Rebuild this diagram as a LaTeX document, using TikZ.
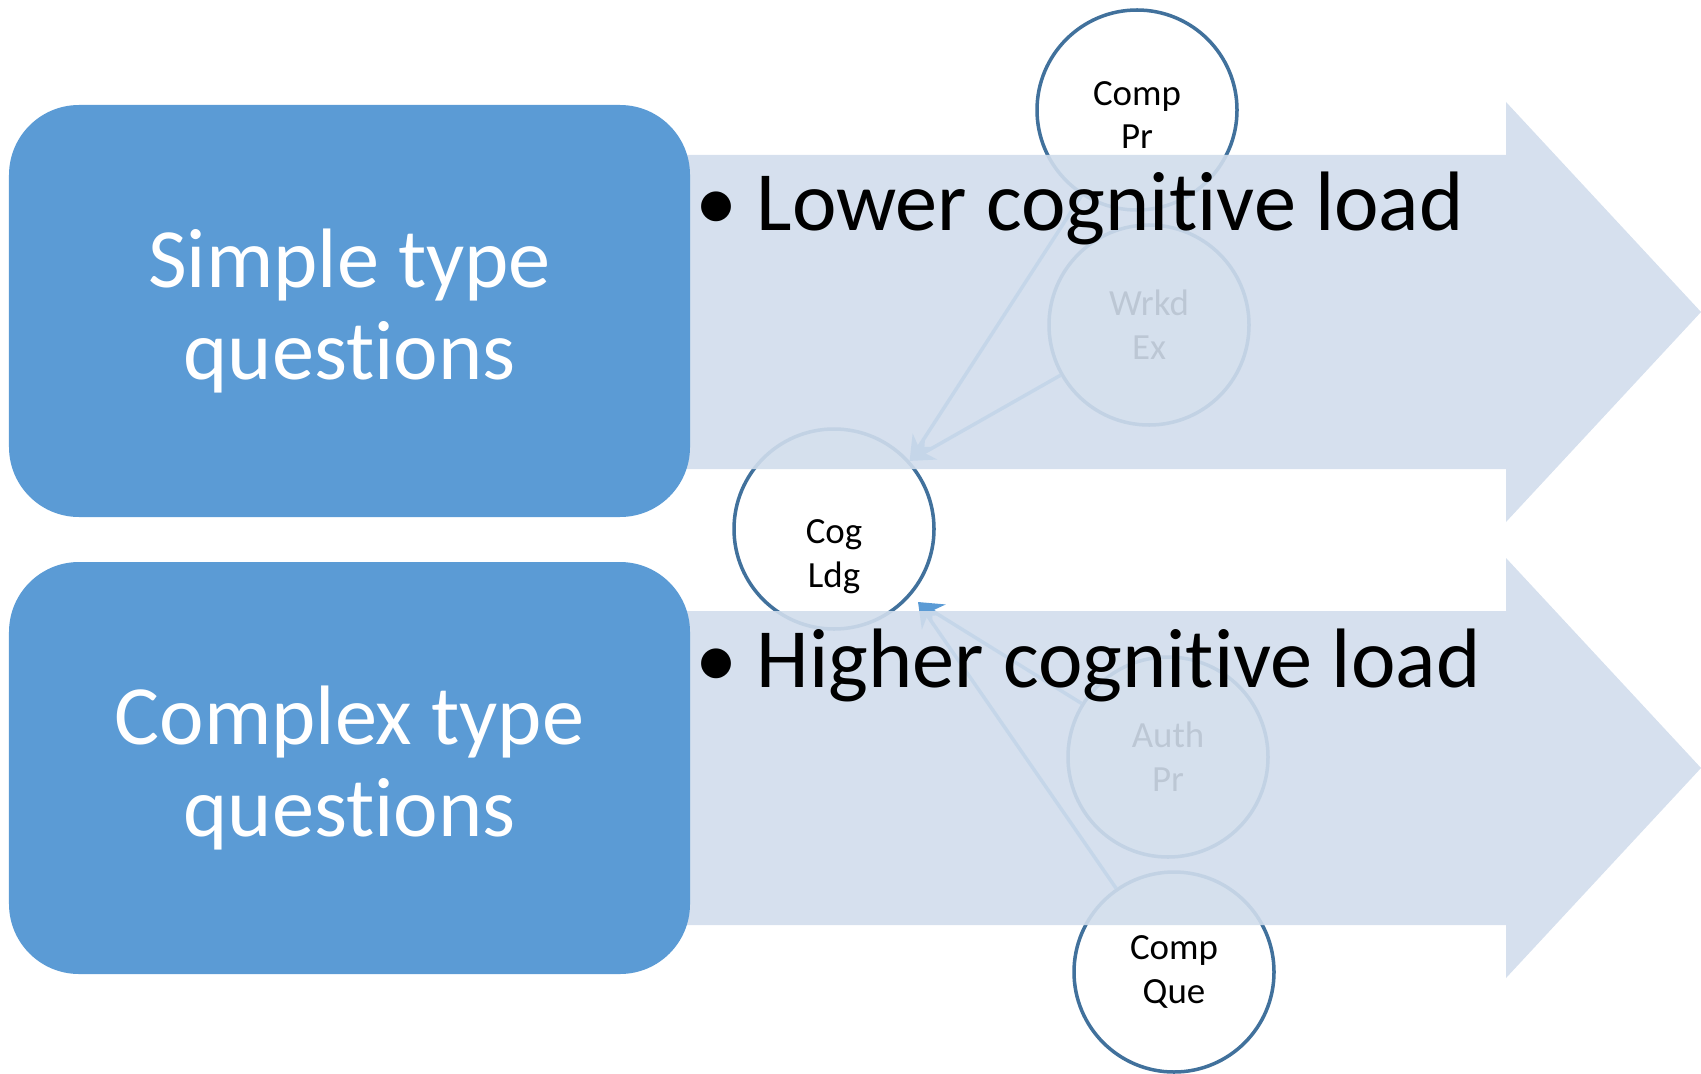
\documentclass[tikz,border=0pt]{standalone}
\usepackage{fontspec}
\setmainfont{Carlito}[RawFeature={-liga;-clig;-dlig;-rlig}]
\usetikzlibrary{arrows.meta}

\definecolor{boxblue}{RGB}{91,155,213}
\definecolor{ringblue}{RGB}{65,113,156}
\definecolor{bandblue}{RGB}{209,221,236}

\begin{document}
\begin{tikzpicture}[
    ring/.style={circle, draw=ringblue, line width=1pt, fill=white, minimum size=2cm, inner sep=0pt, align=center, font=\fontsize{10.5}{12.5}\selectfont},
    ringtext/.style={inner sep=0pt, align=center, font=\fontsize{10.5}{12.5}\selectfont},
    link/.style={draw=boxblue, line width=1pt, -{Stealth[length=7pt, width=7pt]}},
    qbox/.style={rounded corners=0.7cm, fill=boxblue, text=white, minimum width=6.81cm, minimum height=4.12cm, align=center, font=\fontsize{24}{26}\selectfont},
    point/.style={anchor=base west, inner sep=0pt, font=\fontsize{24}{29}\selectfont}
]
    % variables
    \pgfmathsetmacro{\vBody}{1.57}
    \pgfmathsetmacro{\vHead}{2.1}
    \pgfmathsetmacro{\vNeck}{15.06}
    \pgfmathsetmacro{\vTip}{17.01}
    \pgfmathsetmacro{\vTop}{7.61}
    \pgfmathsetmacro{\vBot}{3.05}

    \useasboundingbox (0,0) rectangle (17.01,10.73);

    % circles, drawn before the bands
    \node[ring] (comppr) at (11.37,9.63) {};
    \node[ringtext] (comptxt) at ([yshift=-0.05cm]comppr.center) {Comp\\Pr};
    \node[ring] (wrkdex) at (11.49,7.48) {Wrkd\\Ex};
    \node[ring] (cogldg) at (8.34,5.44) {};
    \node[ringtext] (cogtxt) at ([yshift=-0.28cm]cogldg.center) {Cog\\Ldg};
    \node[ring] (authpr) at (11.68,3.16) {Auth\\Pr};
    \node[ring] (compque) at (11.74,1.01) {Comp\\Que};

    \coordinate (cogin) at (9.18,4.71);

    \draw[link] (comppr) -- (cogldg.42);
    \draw[link] (wrkdex) -- (cogldg.42);
    \draw[link] (authpr) -- (cogin);
    \draw[link] (compque) -- (cogin);

    % bands
    \fill[bandblue, fill opacity=0.9] (6.5,\vTop+\vBody) -- (\vNeck,\vTop+\vBody) -- (\vNeck,\vTop+\vHead)
        -- (\vTip,\vTop) -- (\vNeck,\vTop-\vHead) -- (\vNeck,\vTop-\vBody) -- (6.5,\vTop-\vBody) -- cycle;
    \fill[bandblue, fill opacity=0.9] (6.5,\vBot+\vBody) -- (\vNeck,\vBot+\vBody) -- (\vNeck,\vBot+\vHead)
        -- (\vTip,\vBot) -- (\vNeck,\vBot-\vHead) -- (\vNeck,\vBot-\vBody) -- (6.5,\vBot-\vBody) -- cycle;

    % question boxes
    \node[qbox] (simple) at (3.495,7.62) {Simple type\\quest\kern0pt ions};
    \node[qbox] (complex) at (3.495,3.05) {Complex type\\quest\kern0pt ions};

    \node[point] (lower) at (6.95,8.43) {•~Lower cognit\kern0pt ive load};
    \node[point] (higher) at (6.95,3.86) {•~Higher cognit\kern0pt ive load};
\end{tikzpicture}
\end{document}
